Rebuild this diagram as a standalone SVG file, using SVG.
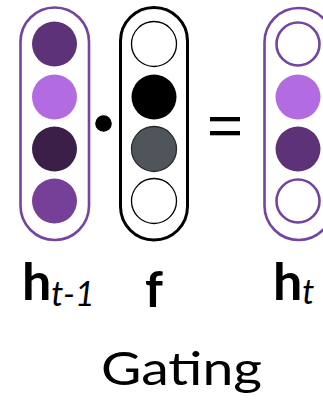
<svg xmlns="http://www.w3.org/2000/svg" width="323" height="404" viewBox="0 0 323 404">
<style>
.cap-p{fill:none;stroke:#7444a3;stroke-width:2.6}
.cap-k{fill:none;stroke:#000;stroke-width:3}
.ring-k{fill:#fff;stroke:#000;stroke-width:1.3}
.ring-p{fill:#fff;stroke:#7444a3;stroke-width:2.6}
.lbl{font-family:Lato,"Liberation Sans",sans-serif;font-weight:bold;fill:#000}
.sub{font-family:Lato,"Liberation Sans",sans-serif;font-style:italic;fill:#000}
.title{font-family:Lato,"Liberation Sans",sans-serif;fill:#000}
</style>
<rect width="323" height="404" fill="#fff"/>
<g id="h_prev">
<rect class="cap-p" x="20.5" y="7.5" width="68.5" height="232.5" rx="34.25"/>
<circle cx="54.5" cy="44" r="22.5" fill="#5e3278"/>
<circle cx="54.5" cy="97" r="22.5" fill="#b26be0"/>
<circle cx="54.5" cy="149" r="22.5" fill="#3c1f48"/>
<circle cx="54.5" cy="201" r="22.5" fill="#763f98"/>
<text class="lbl" x="22" y="299.5" font-size="52">h<tspan class="sub" font-weight="normal" font-size="34" dy="6.5">t-1</tspan></text>
</g>
<g id="dot">
<circle cx="103.5" cy="123.5" r="8.3" fill="#000"/>
</g>
<g id="f">
<rect class="cap-k" x="120.5" y="7.5" width="67" height="232.5" rx="33.5"/>
<circle class="ring-k" cx="154" cy="44" r="22.5"/>
<circle cx="154" cy="97" r="22.5" fill="#000"/>
<circle cx="154" cy="149" r="22.5" fill="#50555c" stroke="#2a2a2a" stroke-width="1.3"/>
<circle class="ring-k" cx="154" cy="201" r="22.5"/>
<text class="lbl" x="154" y="306.5" font-size="50" text-anchor="middle">f</text>
</g>
<g id="equals">
<rect x="210" y="117" width="30" height="4.3" fill="#000"/>
<rect x="210" y="131" width="30" height="4.3" fill="#000"/>
</g>
<g id="h_t">
<rect class="cap-p" x="264.5" y="8" width="68.5" height="232" rx="34.25"/>
<circle class="ring-p" cx="298" cy="44" r="21.5"/>
<circle cx="298" cy="97" r="22.5" fill="#b26be0"/>
<circle cx="298" cy="149" r="22.5" fill="#5e3278"/>
<circle class="ring-p" cx="298" cy="201" r="21.5"/>
<text class="lbl" x="273" y="299.5" font-size="52">h<tspan class="sub" font-weight="normal" font-size="34" dy="4.5">t</tspan></text>
</g>
<text class="title" x="101" y="384.5" font-size="46" textLength="161" lengthAdjust="spacingAndGlyphs">Gating</text>
</svg>
